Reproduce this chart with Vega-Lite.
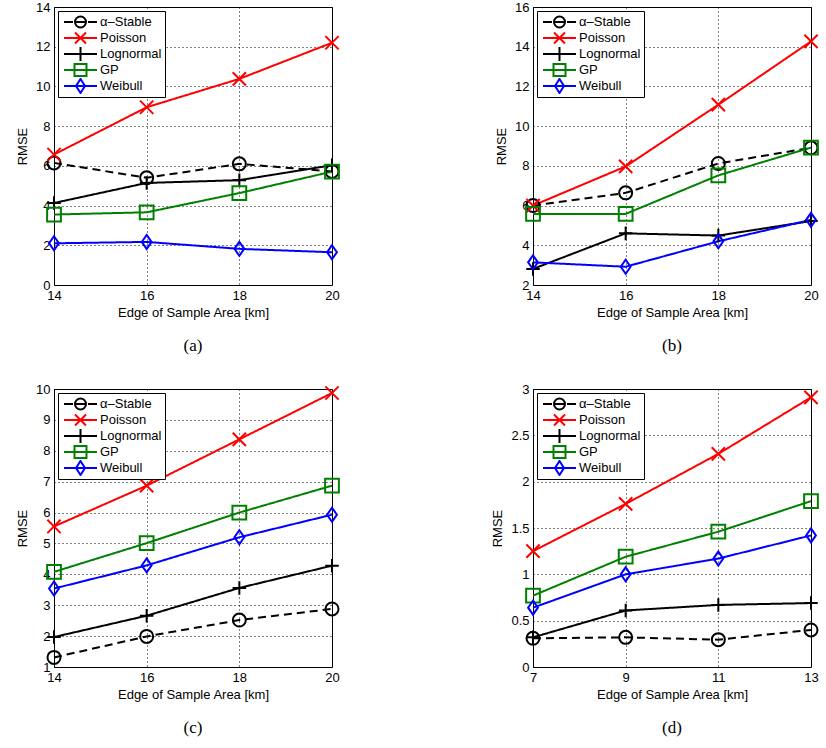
{
  "$schema": "https://vega.github.io/schema/vega-lite/v6.json",
  "padding": {"left": 16, "top": 0, "right": 5, "bottom": 5},
  "background": "white",
  "data": {"values": [
    {"p":"a","s":"α–Stable","x":14,"y":6.15},{"p":"a","s":"α–Stable","x":16,"y":5.4},{"p":"a","s":"α–Stable","x":18,"y":6.1},{"p":"a","s":"α–Stable","x":20,"y":5.72},
    {"p":"a","s":"Poisson","x":14,"y":6.57},{"p":"a","s":"Poisson","x":16,"y":8.95},{"p":"a","s":"Poisson","x":18,"y":10.38},{"p":"a","s":"Poisson","x":20,"y":12.2},
    {"p":"a","s":"Lognormal","x":14,"y":4.13},{"p":"a","s":"Lognormal","x":16,"y":5.14},{"p":"a","s":"Lognormal","x":18,"y":5.28},{"p":"a","s":"Lognormal","x":20,"y":6.03},
    {"p":"a","s":"GP","x":14,"y":3.55},{"p":"a","s":"GP","x":16,"y":3.66},{"p":"a","s":"GP","x":18,"y":4.63},{"p":"a","s":"GP","x":20,"y":5.71},
    {"p":"a","s":"Weibull","x":14,"y":2.1},{"p":"a","s":"Weibull","x":16,"y":2.17},{"p":"a","s":"Weibull","x":18,"y":1.82},{"p":"a","s":"Weibull","x":20,"y":1.65},
    {"p":"b","s":"α–Stable","x":14,"y":6.0},{"p":"b","s":"α–Stable","x":16,"y":6.64},{"p":"b","s":"α–Stable","x":18,"y":8.12},{"p":"b","s":"α–Stable","x":20,"y":8.91},
    {"p":"b","s":"Poisson","x":14,"y":6.0},{"p":"b","s":"Poisson","x":16,"y":7.97},{"p":"b","s":"Poisson","x":18,"y":11.08},{"p":"b","s":"Poisson","x":20,"y":14.27},
    {"p":"b","s":"Lognormal","x":14,"y":2.81},{"p":"b","s":"Lognormal","x":16,"y":4.6},{"p":"b","s":"Lognormal","x":18,"y":4.49},{"p":"b","s":"Lognormal","x":20,"y":5.22},
    {"p":"b","s":"GP","x":14,"y":5.58},{"p":"b","s":"GP","x":16,"y":5.58},{"p":"b","s":"GP","x":18,"y":7.52},{"p":"b","s":"GP","x":20,"y":8.92},
    {"p":"b","s":"Weibull","x":14,"y":3.14},{"p":"b","s":"Weibull","x":16,"y":2.92},{"p":"b","s":"Weibull","x":18,"y":4.2},{"p":"b","s":"Weibull","x":20,"y":5.28},
    {"p":"c","s":"α–Stable","x":14,"y":1.31},{"p":"c","s":"α–Stable","x":16,"y":1.99},{"p":"c","s":"α–Stable","x":18,"y":2.52},{"p":"c","s":"α–Stable","x":20,"y":2.88},
    {"p":"c","s":"Poisson","x":14,"y":5.55},{"p":"c","s":"Poisson","x":16,"y":6.87},{"p":"c","s":"Poisson","x":18,"y":8.37},{"p":"c","s":"Poisson","x":20,"y":9.87},
    {"p":"c","s":"Lognormal","x":14,"y":1.97},{"p":"c","s":"Lognormal","x":16,"y":2.66},{"p":"c","s":"Lognormal","x":18,"y":3.56},{"p":"c","s":"Lognormal","x":20,"y":4.28},
    {"p":"c","s":"GP","x":14,"y":4.08},{"p":"c","s":"GP","x":16,"y":5.01},{"p":"c","s":"GP","x":18,"y":6.0},{"p":"c","s":"GP","x":20,"y":6.87},
    {"p":"c","s":"Weibull","x":14,"y":3.54},{"p":"c","s":"Weibull","x":16,"y":4.29},{"p":"c","s":"Weibull","x":18,"y":5.2},{"p":"c","s":"Weibull","x":20,"y":5.93},
    {"p":"d","s":"α–Stable","x":7,"y":0.31},{"p":"d","s":"α–Stable","x":9,"y":0.32},{"p":"d","s":"α–Stable","x":11,"y":0.295},{"p":"d","s":"α–Stable","x":13,"y":0.4},
    {"p":"d","s":"Poisson","x":7,"y":1.25},{"p":"d","s":"Poisson","x":9,"y":1.76},{"p":"d","s":"Poisson","x":11,"y":2.3},{"p":"d","s":"Poisson","x":13,"y":2.91},
    {"p":"d","s":"Lognormal","x":7,"y":0.32},{"p":"d","s":"Lognormal","x":9,"y":0.61},{"p":"d","s":"Lognormal","x":11,"y":0.67},{"p":"d","s":"Lognormal","x":13,"y":0.69},
    {"p":"d","s":"GP","x":7,"y":0.77},{"p":"d","s":"GP","x":9,"y":1.19},{"p":"d","s":"GP","x":11,"y":1.46},{"p":"d","s":"GP","x":13,"y":1.79},
    {"p":"d","s":"Weibull","x":7,"y":0.64},{"p":"d","s":"Weibull","x":9,"y":1.0},{"p":"d","s":"Weibull","x":11,"y":1.17},{"p":"d","s":"Weibull","x":13,"y":1.42}
  ]},
  "columns": 2,
  "spacing": {"row": 104, "column": 201},
  "bounds": "flush",
  "resolve": {
    "scale": {"x": "independent", "y": "independent", "color": "independent", "shape": "independent", "strokeDash": "independent", "size": "independent"},
    "legend": {"color": "independent", "shape": "independent", "strokeDash": "independent", "size": "independent"}
  },
  "concat": [
    {
      "title": {"text": "(a)"},
      "width": 278, "height": 278,
      "transform": [{"filter": "datum.p === 'a'"}],
      "encoding": {
        "x": {"field": "x", "type": "quantitative", "scale": {"domain": [14, 20], "nice": false, "zero": false}, "axis": {"values": [14, 16, 18, 20], "tickCount": 4, "title": "Edge of Sample Area [km]"}},
        "y": {"field": "y", "type": "quantitative", "scale": {"domain": [0, 14], "nice": false, "zero": false}, "axis": {"values": [0, 2, 4, 6, 8, 10, 12, 14], "tickCount": 8, "title": "RMSE"}}
      },
      "resolve": {"scale": {"color": "independent", "shape": "independent", "strokeDash": "independent", "size": "independent"}, "legend": {"color": "independent", "shape": "independent", "strokeDash": "independent", "size": "independent"}},
      "layer": [
        {"mark": {"type": "line", "strokeWidth": 2},
         "encoding": {
           "color": {"field": "s", "type": "nominal", "scale": {"domain": ["α–Stable", "Poisson", "Lognormal", "GP", "Weibull"], "range": ["#000000", "#ff0000", "#000000", "#008000", "#0000ff"]}, "legend": null},
           "strokeDash": {"field": "s", "type": "nominal", "scale": {"domain": ["α–Stable", "Poisson", "Lognormal", "GP", "Weibull"], "range": [[8, 5], [1, 0], [1, 0], [1, 0], [1, 0]]}, "legend": null}
         }},
        {"mark": {"type": "point", "filled": false, "strokeWidth": 2, "opacity": 1},
         "encoding": {
           "color": {"field": "s", "type": "nominal", "scale": {"domain": ["α–Stable", "Poisson", "Lognormal", "GP", "Weibull"], "range": ["#000000", "#ff0000", "#000000", "#008000", "#0000ff"]}, "legend": null},
           "shape": {"field": "s", "type": "nominal", "scale": {"domain": ["α–Stable", "Poisson", "Lognormal", "GP", "Weibull"], "range": ["circle", "M-1,-1L1,1M-1,1L1,-1", "M0,-1V1M-1,0H1", "square", "M0,-1L0.7,0L0,1L-0.7,0Z"]}, "legend": null},
           "size": {"field": "s", "type": "nominal", "scale": {"domain": ["α–Stable", "Poisson", "Lognormal", "GP", "Weibull"], "range": [169, 196, 225, 225, 225]}, "legend": null}
         }},
        {"mark": {"type": "point", "filled": false, "strokeWidth": 2, "opacity": 0},
         "encoding": {
           "color": {"field": "s", "type": "nominal", "scale": {"domain": ["α–Stable", "Poisson", "Lognormal", "GP", "Weibull"], "range": ["#000000", "#ff0000", "#000000", "#008000", "#0000ff"]}, "legend": {}},
           "shape": {"field": "s", "type": "nominal", "scale": {"domain": ["α–Stable", "Poisson", "Lognormal", "GP", "Weibull"], "range": ["M-0.778,0H1.222M4.556,0H6.556M1.667,0H4.111M4.111,0A1.222,1.222,0,1,1,1.667,0A1.222,1.222,0,1,1,4.111,0", "M-0.778,0H6.556M1.667,-1.222L4.111,1.222M1.667,1.222L4.111,-1.222", "M-0.778,0H6.556M2.889,-1.556V1.556", "M-0.778,0H6.556M1.556,-1.333H4.222V1.333H1.556Z", "M-0.778,0H6.556M2.889,-1.556L3.889,0L2.889,1.556L1.889,0Z"]}, "legend": {}}
         }}
      ]
    },
    {
      "title": {"text": "(b)"},
      "width": 278, "height": 278,
      "transform": [{"filter": "datum.p === 'b'"}],
      "encoding": {
        "x": {"field": "x", "type": "quantitative", "scale": {"domain": [14, 20], "nice": false, "zero": false}, "axis": {"values": [14, 16, 18, 20], "tickCount": 4, "title": "Edge of Sample Area [km]"}},
        "y": {"field": "y", "type": "quantitative", "scale": {"domain": [2, 16], "nice": false, "zero": false}, "axis": {"values": [2, 4, 6, 8, 10, 12, 14, 16], "tickCount": 8, "title": "RMSE"}}
      },
      "resolve": {"scale": {"color": "independent", "shape": "independent", "strokeDash": "independent", "size": "independent"}, "legend": {"color": "independent", "shape": "independent", "strokeDash": "independent", "size": "independent"}},
      "layer": [
        {"mark": {"type": "line", "strokeWidth": 2},
         "encoding": {
           "color": {"field": "s", "type": "nominal", "scale": {"domain": ["α–Stable", "Poisson", "Lognormal", "GP", "Weibull"], "range": ["#000000", "#ff0000", "#000000", "#008000", "#0000ff"]}, "legend": null},
           "strokeDash": {"field": "s", "type": "nominal", "scale": {"domain": ["α–Stable", "Poisson", "Lognormal", "GP", "Weibull"], "range": [[8, 5], [1, 0], [1, 0], [1, 0], [1, 0]]}, "legend": null}
         }},
        {"mark": {"type": "point", "filled": false, "strokeWidth": 2, "opacity": 1},
         "encoding": {
           "color": {"field": "s", "type": "nominal", "scale": {"domain": ["α–Stable", "Poisson", "Lognormal", "GP", "Weibull"], "range": ["#000000", "#ff0000", "#000000", "#008000", "#0000ff"]}, "legend": null},
           "shape": {"field": "s", "type": "nominal", "scale": {"domain": ["α–Stable", "Poisson", "Lognormal", "GP", "Weibull"], "range": ["circle", "M-1,-1L1,1M-1,1L1,-1", "M0,-1V1M-1,0H1", "square", "M0,-1L0.7,0L0,1L-0.7,0Z"]}, "legend": null},
           "size": {"field": "s", "type": "nominal", "scale": {"domain": ["α–Stable", "Poisson", "Lognormal", "GP", "Weibull"], "range": [169, 196, 225, 225, 225]}, "legend": null}
         }},
        {"mark": {"type": "point", "filled": false, "strokeWidth": 2, "opacity": 0},
         "encoding": {
           "color": {"field": "s", "type": "nominal", "scale": {"domain": ["α–Stable", "Poisson", "Lognormal", "GP", "Weibull"], "range": ["#000000", "#ff0000", "#000000", "#008000", "#0000ff"]}, "legend": {}},
           "shape": {"field": "s", "type": "nominal", "scale": {"domain": ["α–Stable", "Poisson", "Lognormal", "GP", "Weibull"], "range": ["M-0.778,0H1.222M4.556,0H6.556M1.667,0H4.111M4.111,0A1.222,1.222,0,1,1,1.667,0A1.222,1.222,0,1,1,4.111,0", "M-0.778,0H6.556M1.667,-1.222L4.111,1.222M1.667,1.222L4.111,-1.222", "M-0.778,0H6.556M2.889,-1.556V1.556", "M-0.778,0H6.556M1.556,-1.333H4.222V1.333H1.556Z", "M-0.778,0H6.556M2.889,-1.556L3.889,0L2.889,1.556L1.889,0Z"]}, "legend": {}}
         }}
      ]
    },
    {
      "title": {"text": "(c)"},
      "width": 278, "height": 278,
      "transform": [{"filter": "datum.p === 'c'"}],
      "encoding": {
        "x": {"field": "x", "type": "quantitative", "scale": {"domain": [14, 20], "nice": false, "zero": false}, "axis": {"values": [14, 16, 18, 20], "tickCount": 4, "title": "Edge of Sample Area [km]"}},
        "y": {"field": "y", "type": "quantitative", "scale": {"domain": [1, 10], "nice": false, "zero": false}, "axis": {"values": [1, 2, 3, 4, 5, 6, 7, 8, 9, 10], "tickCount": 10, "title": "RMSE"}}
      },
      "resolve": {"scale": {"color": "independent", "shape": "independent", "strokeDash": "independent", "size": "independent"}, "legend": {"color": "independent", "shape": "independent", "strokeDash": "independent", "size": "independent"}},
      "layer": [
        {"mark": {"type": "line", "strokeWidth": 2},
         "encoding": {
           "color": {"field": "s", "type": "nominal", "scale": {"domain": ["α–Stable", "Poisson", "Lognormal", "GP", "Weibull"], "range": ["#000000", "#ff0000", "#000000", "#008000", "#0000ff"]}, "legend": null},
           "strokeDash": {"field": "s", "type": "nominal", "scale": {"domain": ["α–Stable", "Poisson", "Lognormal", "GP", "Weibull"], "range": [[8, 5], [1, 0], [1, 0], [1, 0], [1, 0]]}, "legend": null}
         }},
        {"mark": {"type": "point", "filled": false, "strokeWidth": 2, "opacity": 1},
         "encoding": {
           "color": {"field": "s", "type": "nominal", "scale": {"domain": ["α–Stable", "Poisson", "Lognormal", "GP", "Weibull"], "range": ["#000000", "#ff0000", "#000000", "#008000", "#0000ff"]}, "legend": null},
           "shape": {"field": "s", "type": "nominal", "scale": {"domain": ["α–Stable", "Poisson", "Lognormal", "GP", "Weibull"], "range": ["circle", "M-1,-1L1,1M-1,1L1,-1", "M0,-1V1M-1,0H1", "square", "M0,-1L0.7,0L0,1L-0.7,0Z"]}, "legend": null},
           "size": {"field": "s", "type": "nominal", "scale": {"domain": ["α–Stable", "Poisson", "Lognormal", "GP", "Weibull"], "range": [169, 196, 225, 225, 225]}, "legend": null}
         }},
        {"mark": {"type": "point", "filled": false, "strokeWidth": 2, "opacity": 0},
         "encoding": {
           "color": {"field": "s", "type": "nominal", "scale": {"domain": ["α–Stable", "Poisson", "Lognormal", "GP", "Weibull"], "range": ["#000000", "#ff0000", "#000000", "#008000", "#0000ff"]}, "legend": {}},
           "shape": {"field": "s", "type": "nominal", "scale": {"domain": ["α–Stable", "Poisson", "Lognormal", "GP", "Weibull"], "range": ["M-0.778,0H1.222M4.556,0H6.556M1.667,0H4.111M4.111,0A1.222,1.222,0,1,1,1.667,0A1.222,1.222,0,1,1,4.111,0", "M-0.778,0H6.556M1.667,-1.222L4.111,1.222M1.667,1.222L4.111,-1.222", "M-0.778,0H6.556M2.889,-1.556V1.556", "M-0.778,0H6.556M1.556,-1.333H4.222V1.333H1.556Z", "M-0.778,0H6.556M2.889,-1.556L3.889,0L2.889,1.556L1.889,0Z"]}, "legend": {}}
         }}
      ]
    },
    {
      "title": {"text": "(d)"},
      "width": 278, "height": 278,
      "transform": [{"filter": "datum.p === 'd'"}],
      "encoding": {
        "x": {"field": "x", "type": "quantitative", "scale": {"domain": [7, 13], "nice": false, "zero": false}, "axis": {"values": [7, 9, 11, 13], "tickCount": 4, "title": "Edge of Sample Area [km]"}},
        "y": {"field": "y", "type": "quantitative", "scale": {"domain": [0, 3], "nice": false, "zero": false}, "axis": {"values": [0, 0.5, 1, 1.5, 2, 2.5, 3], "tickCount": 7, "format": "~g", "title": "RMSE"}}
      },
      "resolve": {"scale": {"color": "independent", "shape": "independent", "strokeDash": "independent", "size": "independent"}, "legend": {"color": "independent", "shape": "independent", "strokeDash": "independent", "size": "independent"}},
      "layer": [
        {"mark": {"type": "line", "strokeWidth": 2},
         "encoding": {
           "color": {"field": "s", "type": "nominal", "scale": {"domain": ["α–Stable", "Poisson", "Lognormal", "GP", "Weibull"], "range": ["#000000", "#ff0000", "#000000", "#008000", "#0000ff"]}, "legend": null},
           "strokeDash": {"field": "s", "type": "nominal", "scale": {"domain": ["α–Stable", "Poisson", "Lognormal", "GP", "Weibull"], "range": [[8, 5], [1, 0], [1, 0], [1, 0], [1, 0]]}, "legend": null}
         }},
        {"mark": {"type": "point", "filled": false, "strokeWidth": 2, "opacity": 1},
         "encoding": {
           "color": {"field": "s", "type": "nominal", "scale": {"domain": ["α–Stable", "Poisson", "Lognormal", "GP", "Weibull"], "range": ["#000000", "#ff0000", "#000000", "#008000", "#0000ff"]}, "legend": null},
           "shape": {"field": "s", "type": "nominal", "scale": {"domain": ["α–Stable", "Poisson", "Lognormal", "GP", "Weibull"], "range": ["circle", "M-1,-1L1,1M-1,1L1,-1", "M0,-1V1M-1,0H1", "square", "M0,-1L0.7,0L0,1L-0.7,0Z"]}, "legend": null},
           "size": {"field": "s", "type": "nominal", "scale": {"domain": ["α–Stable", "Poisson", "Lognormal", "GP", "Weibull"], "range": [169, 196, 225, 225, 225]}, "legend": null}
         }},
        {"mark": {"type": "point", "filled": false, "strokeWidth": 2, "opacity": 0},
         "encoding": {
           "color": {"field": "s", "type": "nominal", "scale": {"domain": ["α–Stable", "Poisson", "Lognormal", "GP", "Weibull"], "range": ["#000000", "#ff0000", "#000000", "#008000", "#0000ff"]}, "legend": {}},
           "shape": {"field": "s", "type": "nominal", "scale": {"domain": ["α–Stable", "Poisson", "Lognormal", "GP", "Weibull"], "range": ["M-0.778,0H1.222M4.556,0H6.556M1.667,0H4.111M4.111,0A1.222,1.222,0,1,1,1.667,0A1.222,1.222,0,1,1,4.111,0", "M-0.778,0H6.556M1.667,-1.222L4.111,1.222M1.667,1.222L4.111,-1.222", "M-0.778,0H6.556M2.889,-1.556V1.556", "M-0.778,0H6.556M1.556,-1.333H4.222V1.333H1.556Z", "M-0.778,0H6.556M2.889,-1.556L3.889,0L2.889,1.556L1.889,0Z"]}, "legend": {}}
         }}
      ]
    }
  ],
  "config": {
    "font": "Liberation Sans",
    "view": {"stroke": "black", "strokeWidth": 1},
    "axis": {
      "grid": true, "gridColor": "black", "gridDash": [1, 3], "gridOpacity": 1, "gridWidth": 1,
      "domain": false, "ticks": false,
      "labelFontSize": 13, "labelColor": "black", "labelPadding": 4, "labelOverlap": false, "labelFlush": false,
      "titleFontSize": 13, "titleFontWeight": "normal", "titleColor": "black"
    },
    "axisX": {"titlePadding": 4},
    "axisY": {"titlePadding": 6},
    "legend": {
      "title": null, "orient": "top-left", "offset": 4, "padding": 3,
      "strokeColor": "black", "fillColor": "white", "cornerRadius": 0,
      "labelFontSize": 13, "labelColor": "black", "labelLimit": 200,
      "symbolSize": 81, "symbolStrokeWidth": 2, "symbolOpacity": 1, "symbolFillColor": "transparent",
      "labelOffset": 26, "rowPadding": 0, "clipHeight": 16
    },
    "title": {"orient": "bottom", "font": "Liberation Serif", "fontSize": 17, "fontWeight": "normal", "color": "black", "offset": 19, "anchor": "middle"}
  }
}
